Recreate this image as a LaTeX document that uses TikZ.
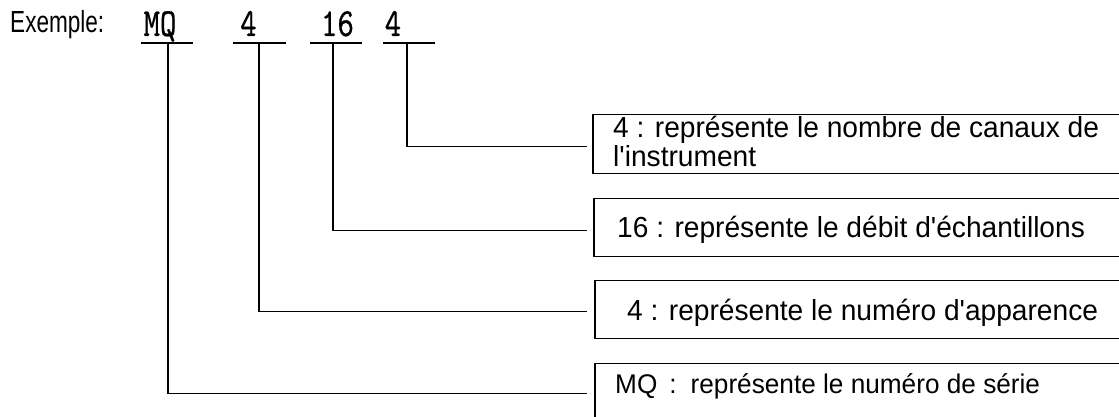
\documentclass[tikz,border=0pt]{standalone}
\usepackage{fontspec}
\setmainfont{Liberation Sans}
\newfontfamily\boxfont[FakeStretch=0.97,Ligatures=TeXOff]{Liberation Sans}
\newfontfamily\exfont[FakeStretch=0.74]{Liberation Sans}
\newfontfamily\codefont[FakeStretch=0.78,FakeBold=0.6]{lmmono10-regular.otf}
\usetikzlibrary{calc}
\begin{document}
\begin{tikzpicture}[x=1pt,y=-1pt,
  boxtxt/.style={font=\boxfont\fontsize{29}{22}\selectfont, anchor=base west, inner sep=0pt},
  codetxt/.style={font=\codefont\fontsize{40}{40}\selectfont, anchor=base, inner sep=0pt},
  frame/.style={draw, line width=1.4pt, anchor=north west, minimum width=560pt, inner sep=0pt},
  leftedge/.style={line width=2.2pt},
  conn/.style={line width=1.2pt},
  uline/.style={line width=1.2pt}]
\useasboundingbox (0,0) rectangle (1119,417);
\clip (0,0) rectangle (1119,417);
% heading
\node[font=\exfont\fontsize{30.5}{30}\selectfont, anchor=base west, inner sep=0pt] (ex) at (10,33) {Exemple:};
% code parts
\node[codetxt] (c1) at (160,36) {MQ};
\node[codetxt] (c2) at (248.5,36) {4};
\node[codetxt] (c3) at (337.5,36) {16};
\node[codetxt] (c4) at (393,36) {4};
\coordinate (u1) at (168,43);
\coordinate (u2) at (259,43);
\coordinate (u3) at (333,43);
\coordinate (u4) at (407,43);
\draw[uline] ($(u1)+(-27,0)$) -- ($(u1)+(25,0)$);
\draw[uline] ($(u2)+(-26,0)$) -- ($(u2)+(27,0)$);
\draw[uline] ($(u3)+(-23,0)$) -- ($(u3)+(29,0)$);
\draw[uline] ($(u4)+(-24,0)$) -- ($(u4)+(28,0)$);
% boxes
\node[frame, minimum height=59pt] (box1) at (593,114) {};
\node[frame, minimum height=58pt] (box2) at (594,197.5) {};
\node[frame, minimum height=58pt] (box3) at (595,280) {};
\node[frame, minimum height=70pt] (box4) at (595,363) {};
\foreach \b in {box1,box2,box3,box4}
  \draw[leftedge] (\b.north west) -- (\b.south west);
% texts
\node[boxtxt] (t1) at (613,138) {\parbox[t]{505pt}{4 : représente le nombre de canaux de\\l'instrument}};
\node[boxtxt] (t2) at (617,237) {16 : représente le débit d'échantillons};
\node[boxtxt] (t3) at (627,320) {4 : représente le numéro d'apparence};
\node[boxtxt, font=\boxfont\fontsize{27}{23}\selectfont] (t4) at (615,393)
  {MQ\hspace{12pt}:\hspace{14pt}représente le numéro de série};
% connectors
\draw[conn] (u4) |- ([xshift=-6pt,yshift=-2.5pt]box1.west);
\draw[conn] (u3) |- ([xshift=-7pt,yshift=-3.5pt]box2.west);
\draw[conn] (u2) |- ([xshift=-8pt,yshift=-2pt]box3.west);
\draw[conn] (u1) |- ([xshift=-8pt,yshift=5pt]box4.west);
\end{tikzpicture}
\end{document}
